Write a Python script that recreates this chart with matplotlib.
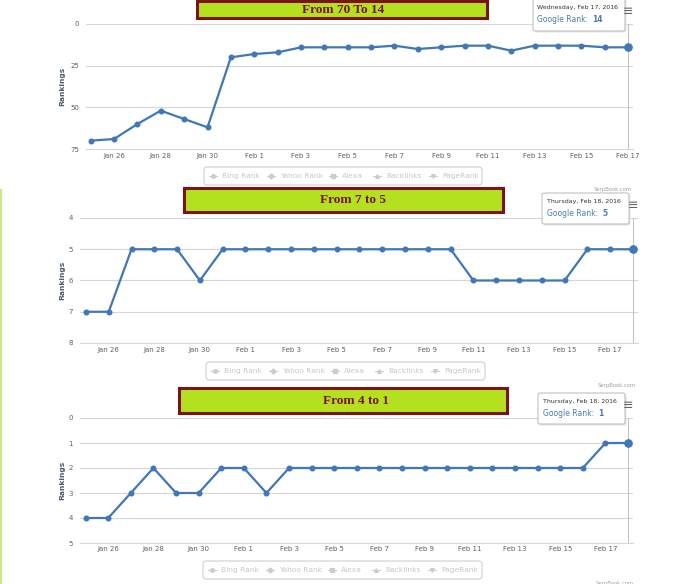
import numpy as np
import pandas as pd
import matplotlib
matplotlib.use("Agg")
import matplotlib.pyplot as plt
from matplotlib.patches import Rectangle, FancyBboxPatch

# data (Google rank per day)
days_a = pd.date_range("2016-01-25", "2016-02-17")
days_b = pd.date_range("2016-01-25", "2016-02-18")

rank_70_14 = [70, 69, 60, 52, 57, 62, 20, 18, 17, 14, 14, 14, 14, 13, 15, 14,
              13, 13, 16, 13, 13, 13, 14, 14]
rank_7_5 = [7, 7, 5, 5, 5, 6, 5, 5, 5, 5, 5, 5, 5, 5, 5, 5, 5, 6, 6, 6, 6, 6,
            5, 5, 5]
rank_4_1 = [4, 4, 3, 2, 3, 3, 2, 2, 3, 2, 2, 2, 2, 2, 2, 2, 2, 2, 2, 2, 2, 2,
            2, 1, 1]

titles = ["From 70 To 14", "From 7 to 5", "From 4 to 1"]
yticks = [[0, 25, 50, 75], [4, 5, 6, 7, 8], [0, 1, 2, 3, 4, 5]]
tip_dates = ["Wednesday, Feb 17, 2016", "Thursday, Feb 18, 2016",
             "Thursday, Feb 18, 2016"]
legend_names = ["Bing Rank", "Yahoo Rank", "Alexa", "Backlinks", "PageRank"]
legend_marks = ["o", "D", "s", "^", "v"]

W, H = 700, 584
LINE = "#3f77b8"
GRID = "#d6d6d6"

fig = plt.figure(figsize=(W / 100, H / 100), dpi=100)
fig.patch.set_facecolor("white")


def px_axes(left, right, top, bottom):
    return fig.add_axes([left / W, 1 - bottom / H, (right - left) / W,
                         (bottom - top) / H])


# (left, right, top, bottom) in pixels, and x-limits
layout = [
    ((86, 633, 24, 149), (-0.20, 23.21), 3.0),
    ((80, 638, 218, 343), (-0.26, 24.22), 3.0),
    ((80, 633, 418, 543), (-0.25, 24.22), 2.0),
]
series = [rank_70_14, rank_7_5, rank_4_1]
day_lists = [days_a, days_b, days_b]

for (box, xl, xpad), vals, days, yt in zip(layout, series, day_lists, yticks):
    ax = px_axes(*box)
    x = np.arange(len(vals))
    ax.set_xlim(*xl)
    ax.set_ylim(yt[-1], yt[0])
    ax.set_yticks(yt)
    ax.grid(axis="y", color=GRID, lw=0.8)
    ax.set_axisbelow(True)
    for s in ["top", "left", "right"]:
        ax.spines[s].set_visible(False)
    ax.spines["bottom"].set_color(GRID)
    ax.spines["bottom"].set_linewidth(0.8)
    ticks = x[1::2]
    ax.set_xticks(ticks)
    ax.set_xticklabels([f"{days[i]:%b} {days[i].day}" for i in ticks])
    ax.tick_params(axis="x", length=0, pad=xpad, labelsize=5, labelcolor="#606060")
    ax.tick_params(axis="y", length=0, pad=5, labelsize=5, labelcolor="#606060")
    ax.axvline(x[-1], color="#c4c4c4", lw=0.8, zorder=1)
    ax.plot(x, vals, color=LINE, lw=1.6, marker="o", ms=3.3, zorder=3)
    ax.plot(x[-1], vals[-1], "o", color=LINE, ms=5.2, zorder=4)
    ax.set_ylabel("Rankings", fontsize=5.4, fontweight="bold", color="#4d5b6b")
    ax.yaxis.label.set_va("center")
    ax.yaxis.set_label_coords((62 - box[0]) / (box[1] - box[0]), 0.5)
    ax.patch.set_alpha(0)

# overlay in pixel coordinates for the decorations
ov = fig.add_axes([0, 0, 1, 1], zorder=10)
ov.set_xlim(0, W)
ov.set_ylim(H, 0)
ov.axis("off")
ov.patch.set_alpha(0)

ov.plot([1, 1], [190, H], color="#cde78e", lw=1.6)

title_boxes = [(197, 1, 290, 17, 343, 10), (183.5, 187.5, 319, 24, 353, 200),
               (179, 388, 328, 25, 356, 401)]
for (bx, by, bw, bh, tx, ty), t in zip(title_boxes, titles):
    ov.add_patch(Rectangle((bx, by), bw, bh, facecolor="#b3e11f",
                           edgecolor="#7a1414", lw=2.2))
    ov.text(tx, ty, t, ha="center", va="center", fontsize=9.5,
            family="Liberation Serif", fontweight="bold", color="#7a1010")

tips = [(533, -4, 92, 35, 537, 8, 19, 14), (542, 193, 87, 31, 547, 202, 213, 5),
        (538, 393, 87, 31, 543, 402, 413, 1)]
for (bx, by, bw, bh, tx, y1, y2, v), d in zip(tips, tip_dates):
    ov.add_patch(FancyBboxPatch((bx + 1.5, by + 1.5), bw, bh,
                                boxstyle="round,pad=0,rounding_size=2",
                                facecolor="#e6e6e6", edgecolor="none"))
    ov.add_patch(FancyBboxPatch((bx, by), bw, bh,
                                boxstyle="round,pad=0,rounding_size=2",
                                facecolor="white", edgecolor="#b8b8b8", lw=0.7))
    ov.text(tx, y1, d, fontsize=4.5, color="#333333", va="center")
    ov.text(tx, y2, "Google Rank: ", fontsize=5.5, color="#4a7cb0", va="center")
    ov.text(tx + 55, y2, str(v), fontsize=5.5, color="#4a7cb0", va="center",
            fontweight="bold")

for hx, hy in [(628, 12), (633, 206), (628, 405)]:
    ov.text(hx, hy, "\u2261", fontsize=9, color="#666666", ha="center",
            va="center")

for cx, cy in [(613, 190), (617, 385), (615, 583)]:
    ov.text(cx, cy, "SerpBook.com", fontsize=3.8, color="#a0a0a0", ha="center",
            va="center")

legend_boxes = [(204, 167, 278, 18), (206, 362, 279, 18), (203, 561, 279, 18)]
sym_off = [9, 67, 129, 173, 229]
for lx, ly, lw_, lh in legend_boxes:
    ov.add_patch(FancyBboxPatch((lx, ly), lw_, lh,
                                boxstyle="round,pad=0,rounding_size=3",
                                facecolor="white", edgecolor="#c8c8c8", lw=0.7))
    cy = ly + lh / 2
    for off, name, mk in zip(sym_off, legend_names, legend_marks):
        ov.plot([lx + off - 4, lx + off + 4], [cy, cy], color="#cccccc", lw=0.8)
        ov.plot(lx + off, cy, marker=mk, color="#cccccc", ms=2.6)
        ov.text(lx + off + 9, cy, name, fontsize=5.4, color="#c8c8c8",
                va="center")

fig.savefig("out.png", dpi=100)
